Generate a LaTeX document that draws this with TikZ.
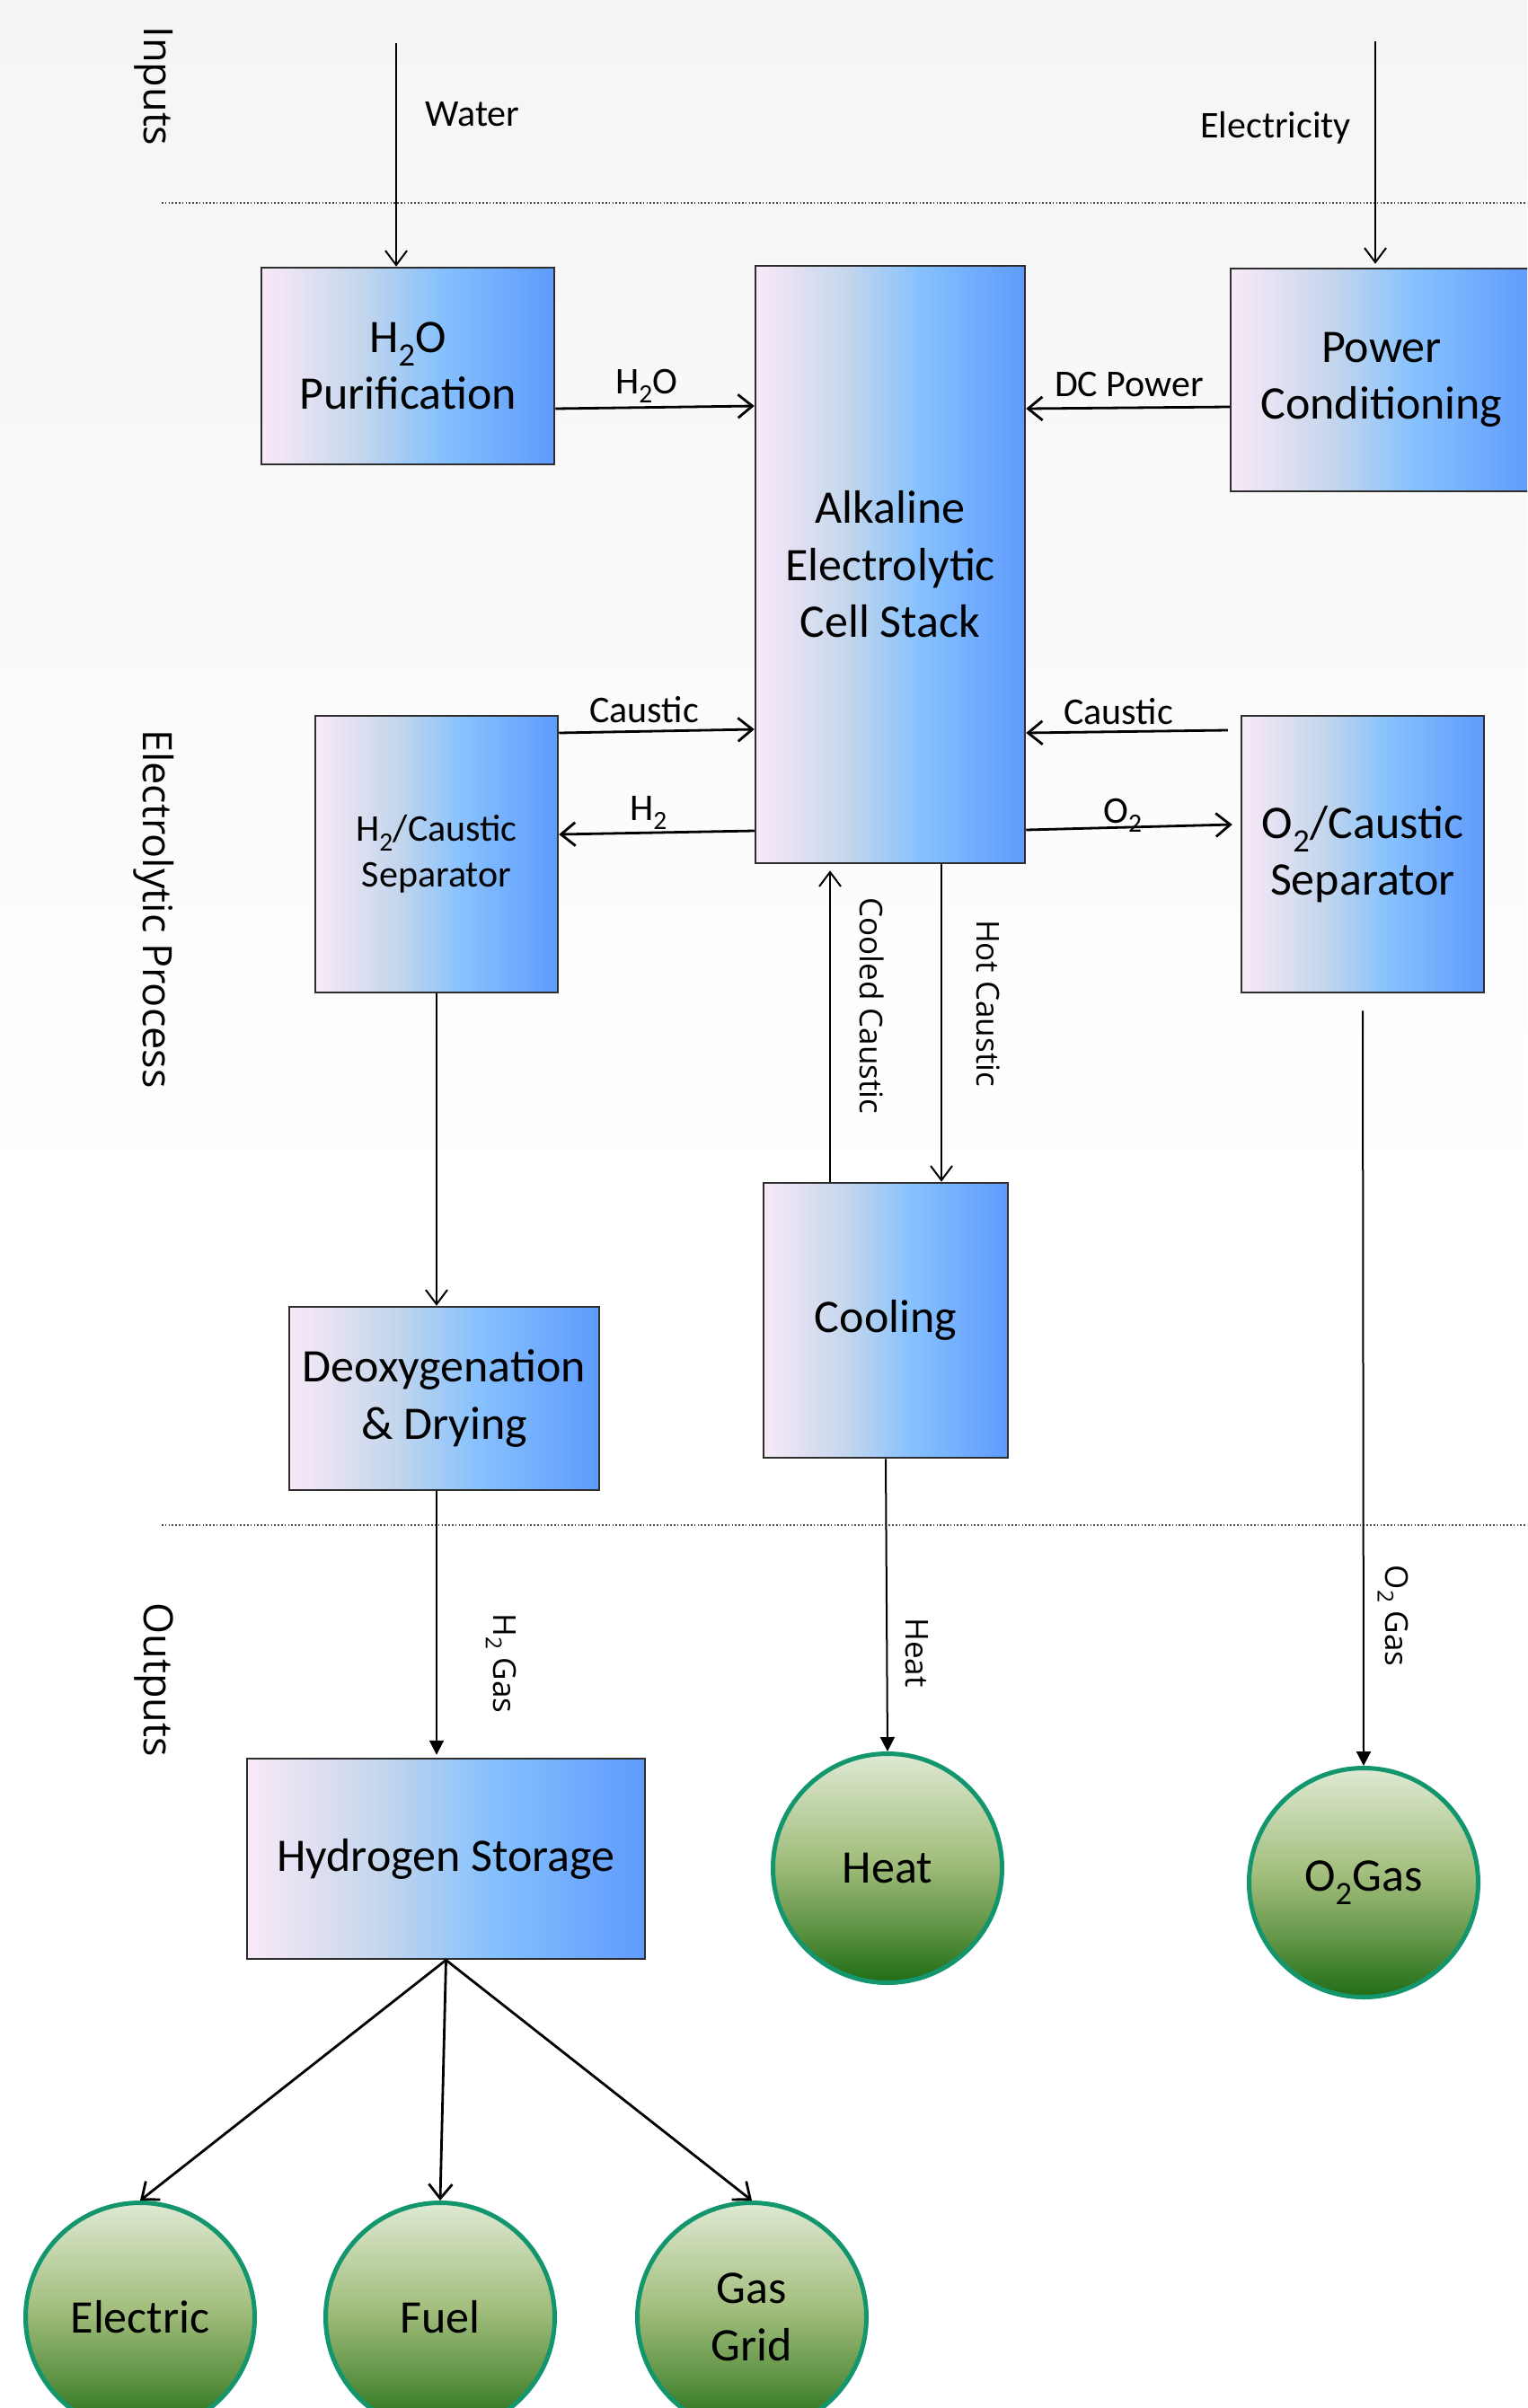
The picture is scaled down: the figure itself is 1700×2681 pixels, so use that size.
\documentclass[tikz,border=0pt]{standalone}
\usepackage{fontspec}
\setmainfont{Carlito}
\newfontfamily\sidefont{Open Sans}
\usetikzlibrary{arrows.meta}

% colours of the process boxes (left to right)
\definecolor{bxA}{HTML}{F9E9F7}
\definecolor{bxB}{HTML}{C4D6EC}
\definecolor{bxC}{HTML}{88C2FD}
\definecolor{bxD}{HTML}{5E9BFD}
% colours of the output balls (top to bottom)
\definecolor{gA}{HTML}{DEE9D2}
\definecolor{gB}{HTML}{A3BE7D}
\definecolor{gC}{HTML}{5F9445}
\definecolor{gD}{HTML}{1F6C15}
\definecolor{ballrim}{HTML}{13966E}
\definecolor{boxrim}{HTML}{2E2E2E}
\definecolor{paper}{HTML}{F5F5F5}

\pgfdeclarehorizontalshading{boxgrad}{100bp}{color(0bp)=(bxA); color(25bp)=(bxA); color(42bp)=(bxB); color(55bp)=(bxC); color(75bp)=(bxD); color(100bp)=(bxD)}
\pgfdeclareverticalshading{ballgrad}{100bp}{color(0bp)=(gD); color(25bp)=(gD); color(37bp)=(gC); color(52bp)=(gB); color(75bp)=(gA); color(100bp)=(gA)}

\newcommand{\largetext}{\fontsize{52}{63.5}\selectfont}
\newcommand{\smalltext}{\fontsize{42}{51}\selectfont}

\begin{document}
\begin{tikzpicture}[x=1pt,y=-1pt,
  procbox/.style={draw=boxrim, line width=2.5pt, shading=boxgrad, align=center,
    font=\largetext, inner sep=0pt},
  ball/.style={circle, draw=ballrim, line width=5pt, shading=ballgrad,
    minimum size=255pt, inner sep=0pt, align=center, font=\largetext},
  lbl/.style={font=\smalltext, inner sep=0pt},
  vlbl/.style={font=\sidefont\fontsize{35}{42}\selectfont, rotate=-90, inner sep=0pt},
  seclbl/.style={font=\sidefont\fontsize{45}{54}\selectfont, rotate=-90, inner sep=0pt},
  flow/.style={line width=2.8pt, -{Straight Barb[length=16pt,width=26pt,line width=2.8pt]}},
  feed/.style={line width=2pt, -{Straight Barb[length=16pt,width=24pt,line width=2pt]}},
  product/.style={line width=2pt, -{Triangle[length=16pt,width=16pt]}},
  divider/.style={line width=1.6pt, black!70, dash pattern=on 1.6pt off 2.2pt}
]
\useasboundingbox (0,0) rectangle (1700,2681);
\clip (0,0) rectangle (1700,2681);

% page background
\fill[white] (0,0) rectangle (1700,2681);
\fill[top color=paper, bottom color=white] (0,0) rectangle (1700,1350);

% section dividers and titles
\draw[divider] (180,226) -- (1700,226);
\draw[divider] (180,1698) -- (1700,1698);
\node[seclbl] (secin) at (171,96) {Inputs};
\node[seclbl] (secproc) at (171,1012) {Electrolytic Process};
\node[seclbl] (secout) at (171,1870) {Outputs};

% process boxes
\node[procbox, minimum width=326pt, minimum height=219pt] (pur) at (454,407.5) {H\textsubscript{2}O\\Purification};
\node[procbox, minimum width=300pt, minimum height=665pt] (stack) at (991,628.5) {Alkaline\\Electrolytic\\Cell Stack};
\node[procbox, minimum width=336pt, minimum height=248pt] (pc) at (1538,423) {Power\\Conditioning};
\node[procbox, minimum width=270pt, minimum height=308pt, font=\smalltext] (hsep) at (486,951) {H\textsubscript{2}/Caustic\\Separator};
\node[procbox, minimum width=270pt, minimum height=308pt] (osep) at (1517,951) {O\textsubscript{2}/Caustic\\Separator};
\node[procbox, minimum width=272pt, minimum height=306pt] (cool) at (986,1470) {Cooling};
\node[procbox, minimum width=345pt, minimum height=204pt] (deox) at (494.5,1557) {Deoxygenation\\\& Drying};
\node[procbox, minimum width=443pt, minimum height=223pt] (store) at (496.5,2069.5) {Hydrogen Storage};

% output balls
\node[ball] (heat) at (988,2080) {Heat};
\node[ball] (oxy) at (1518,2096) {O\textsubscript{2}Gas};
\node[ball] (elec) at (156,2580) {Electric};
\node[ball] (fuel) at (490,2580) {Fuel};
\node[ball] (grid) at (837,2580) {Gas\\Grid};

% external feeds
\coordinate (waterin) at (441,48);
\coordinate (powerin) at (1531,46);
\draw[feed] (waterin) -- (pur.north -| waterin);
\draw[feed, shorten >=4pt] (powerin) -- (pc.north -| powerin);
\node[lbl] (lwater) at (526,127) {Water};
\node[lbl] (lpower) at (1420,142) {Electricity};

% flows around the cell stack
\draw[flow] ([yshift=-47.5pt]pur.east) -- ([yshift=176.5pt]stack.west);
\draw[flow] ([yshift=-30pt]pc.west) -- ([yshift=173.5pt]stack.east);
\draw[flow] ([yshift=135pt]hsep.east) -- ([yshift=-183.5pt]stack.west);
\draw[flow] ([yshift=-296.5pt]stack.west) -- ([yshift=22pt]hsep.east);
\draw[flow] ([xshift=-14pt,yshift=138pt]osep.west) -- ([yshift=-187.5pt]stack.east);
\draw[flow] ([yshift=-295.5pt]stack.east) -- ([xshift=-9pt,yshift=33pt]osep.west);
\node[lbl] (lh2o) at (720,430) {H\textsubscript{2}O};
\node[lbl] (ldc) at (1257,428) {DC Power};
\node[lbl] (lcl) at (717,790) {Caustic};
\node[lbl] (lh2) at (722,905) {H\textsubscript{2}};
\node[lbl] (lcr) at (1245,792) {Caustic};
\node[lbl] (lo2) at (1250,908) {O\textsubscript{2}};

% caustic cooling loop
\coordinate (coldx) at (924,0);
\coordinate (hotx) at (1048,0);
\draw[feed, shorten >=7pt] (cool.north -| coldx) -- (stack.south -| coldx);
\draw[feed] (stack.south -| hotx) -- (cool.north -| hotx);
\node[vlbl] (lcold) at (971,1120) {Cooled Caustic};
\node[vlbl] (lhot) at (1100,1117) {Hot Caustic};

% gas treatment and outputs
\draw[feed] (hsep.south) -- (deox.north -| hsep.south);
\draw[product, shorten >=3pt] (deox.south -| hsep.south) -- (store.north -| hsep.south);
\draw[product] (cool.south) -- (heat.north);
\draw[product, shorten <=19pt] (osep.south) -- (oxy.north);
\node[vlbl] (lh2gas) at (558,1852) {H\textsubscript{2} Gas};
\node[vlbl] (lheat) at (1021,1840) {Heat};
\node[vlbl] (lo2gas) at (1551,1799) {O\textsubscript{2} Gas};

% hydrogen distribution
\draw[flow] (store.south) -- (elec.north);
\draw[flow] (store.south) -- (fuel.north);
\draw[flow] (store.south) -- (grid.north);
\end{tikzpicture}
\end{document}
